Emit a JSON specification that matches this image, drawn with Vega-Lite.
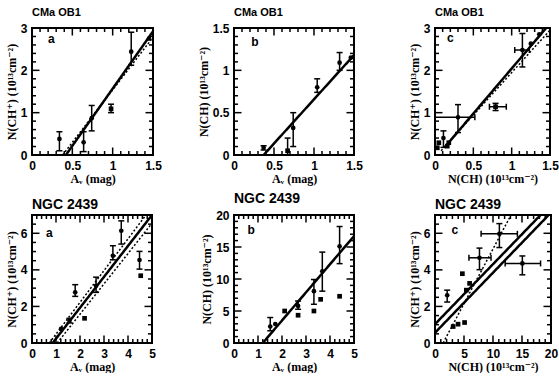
{
"$schema":"https://vega.github.io/schema/vega-lite/v6.json",
"background":"white",
"padding":{"left":4,"top":6,"right":0,"bottom":0},
"columns":3,
"bounds":"flush",
"spacing":{"row":60,"column":81},
"config":{
 "view":{"stroke":"black","strokeWidth":2},
 "axis":{"domain":false,"grid":false,"ticks":false,"labelPadding":5,"labelFlush":false,"labelOverlap":false,"format":"~g","labelFont":"Liberation Sans","labelFontWeight":"bold","labelFontSize":12,"labelColor":"black","titleFont":"Liberation Serif, DejaVu Serif","titleFontWeight":"bold","titleFontSize":12,"titleColor":"black","titlePadding":2},
 "title":{"anchor":"start","frame":"group","font":"Liberation Sans","fontWeight":"bold","color":"black"},
 "tick":{"color":"black","thickness":1.5,"opacity":1}
},
"datasets":{
 "pts":[
  {"p":"a","x":0.34,"y":0.38,"ylo":0.1,"yhi":0.55,"s":"c"},
  {"p":"a","x":0.64,"y":0.3,"ylo":0.08,"yhi":0.55,"s":"c"},
  {"p":"a","x":0.74,"y":0.87,"ylo":0.57,"yhi":1.17,"s":"c"},
  {"p":"a","x":0.98,"y":1.09,"ylo":1.0,"yhi":1.2,"s":"s"},
  {"p":"a","x":1.23,"y":2.44,"ylo":2.12,"yhi":2.9,"s":"c"},
  {"p":"a","x":1.45,"y":2.75,"s":"c"},
  {"p":"b","x":0.37,"y":0.085,"ylo":0.06,"yhi":0.11,"s":"c"},
  {"p":"b","x":0.67,"y":0.05,"ylo":0.0,"yhi":0.2,"s":"s"},
  {"p":"b","x":0.74,"y":0.32,"ylo":0.1,"yhi":0.5,"s":"c"},
  {"p":"b","x":1.04,"y":0.8,"ylo":0.74,"yhi":0.9,"s":"c"},
  {"p":"b","x":1.32,"y":1.09,"ylo":1.0,"yhi":1.21,"s":"c"},
  {"p":"b","x":1.46,"y":1.15,"s":"c"},
  {"p":"c","x":0.3,"y":0.89,"ylo":0.53,"yhi":1.19,"xlo":0,"xhi":0.52,"s":"c"},
  {"p":"c","x":0.79,"y":1.14,"ylo":1.05,"yhi":1.22,"xlo":0.71,"xhi":0.93,"s":"s"},
  {"p":"c","x":1.14,"y":2.48,"ylo":2.08,"yhi":2.87,"xlo":1.04,"xhi":1.23,"s":"c"},
  {"p":"c","x":1.25,"y":2.63,"s":"c"},
  {"p":"c","x":1.36,"y":2.85,"s":"c"},
  {"p":"c","x":0.05,"y":0.29,"s":"s"},
  {"p":"c","x":0.11,"y":0.4,"ylo":0.18,"yhi":0.57,"s":"c"},
  {"p":"c","x":0.18,"y":0.29,"s":"s"},
  {"p":"c","x":0.03,"y":0.17,"s":"s"},
  {"p":"c","x":0.16,"y":0.21,"s":"s"},
  {"p":"d","x":1.8,"y":2.77,"ylo":2.55,"yhi":3.19,"s":"c"},
  {"p":"d","x":2.19,"y":1.35,"s":"s"},
  {"p":"d","x":1.56,"y":1.22,"ylo":1.1,"yhi":1.35,"s":"c"},
  {"p":"d","x":2.67,"y":3.13,"ylo":2.77,"yhi":3.6,"s":"c"},
  {"p":"d","x":3.37,"y":4.77,"ylo":4.55,"yhi":5.32,"s":"c"},
  {"p":"d","x":3.72,"y":6.14,"ylo":5.41,"yhi":6.68,"s":"c"},
  {"p":"d","x":4.48,"y":4.54,"ylo":4.04,"yhi":5.01,"s":"c"},
  {"p":"d","x":4.53,"y":3.68,"s":"s"},
  {"p":"d","x":1.21,"y":0.77,"s":"c"},
  {"p":"e","x":1.51,"y":2.58,"ylo":1.91,"yhi":3.98,"s":"c"},
  {"p":"e","x":1.72,"y":2.95,"s":"c"},
  {"p":"e","x":2.11,"y":5.0,"s":"s"},
  {"p":"e","x":2.67,"y":5.79,"ylo":5.27,"yhi":6.56,"s":"c"},
  {"p":"e","x":2.67,"y":4.34,"s":"s"},
  {"p":"e","x":3.33,"y":8.1,"ylo":6.05,"yhi":9.92,"s":"c"},
  {"p":"e","x":3.61,"y":6.82,"s":"s"},
  {"p":"e","x":3.33,"y":5.0,"s":"s"},
  {"p":"e","x":3.68,"y":11.2,"ylo":8.1,"yhi":14.2,"s":"c"},
  {"p":"e","x":4.4,"y":15.1,"ylo":12.4,"yhi":18.2,"s":"c"},
  {"p":"e","x":4.4,"y":7.3,"s":"s"},
  {"p":"f","x":11.1,"y":5.97,"ylo":5.22,"yhi":6.53,"xlo":7.95,"xhi":14.2,"s":"c"},
  {"p":"f","x":7.67,"y":4.66,"ylo":4.01,"yhi":5.19,"xlo":5.85,"xhi":9.66,"s":"c"},
  {"p":"f","x":15.06,"y":4.35,"ylo":3.73,"yhi":4.76,"xlo":12.1,"xhi":18.2,"s":"c"},
  {"p":"f","x":4.72,"y":3.79,"s":"s"},
  {"p":"f","x":2.1,"y":2.61,"ylo":2.24,"yhi":2.89,"s":"c"},
  {"p":"f","x":5.4,"y":2.89,"s":"s"},
  {"p":"f","x":5.97,"y":3.26,"s":"s"},
  {"p":"f","x":3.13,"y":0.9,"s":"s"},
  {"p":"f","x":3.98,"y":1.03,"s":"s"},
  {"p":"f","x":5.1,"y":1.12,"s":"s"}
 ],
 "fits":[
  {"p":"a","id":"a1","st":"solid","x":0.42,"y":0},{"p":"a","id":"a1","st":"solid","x":1.5,"y":2.92},
  {"p":"a","id":"a2","st":"dot","x":0.38,"y":0},{"p":"a","id":"a2","st":"dot","x":1.5,"y":2.78},
  {"p":"b","id":"b1","st":"solid","x":0.37,"y":0},{"p":"b","id":"b1","st":"solid","x":1.5,"y":1.18},
  {"p":"c","id":"c1","st":"solid","x":0.12,"y":0.17},{"p":"c","id":"c1","st":"solid","x":1.45,"y":3.0},
  {"p":"c","id":"c2","st":"dot","x":0.08,"y":0.1},{"p":"c","id":"c2","st":"dot","x":1.5,"y":2.95},
  {"p":"d","id":"d1","st":"solid","x":0.86,"y":0},{"p":"d","id":"d1","st":"solid","x":5,"y":7},
  {"p":"d","id":"d2","st":"dot","x":0.72,"y":0},{"p":"d","id":"d2","st":"dot","x":4.75,"y":7},
  {"p":"d","id":"d3","st":"dot","x":1.05,"y":0},{"p":"d","id":"d3","st":"dot","x":5,"y":6.55},
  {"p":"e","id":"e1","st":"solid","x":1.2,"y":0},{"p":"e","id":"e1","st":"solid","x":5,"y":16.7},
  {"p":"f","id":"f1","st":"solid","x":0,"y":1.03},{"p":"f","id":"f1","st":"solid","x":18.2,"y":7},
  {"p":"f","id":"f2","st":"solid","x":0,"y":0.56},{"p":"f","id":"f2","st":"solid","x":19.6,"y":7},
  {"p":"f","id":"f3","st":"dot","x":1.4,"y":0},{"p":"f","id":"f3","st":"dot","x":13.1,"y":7}
 ],
 "labs":[
  {"p":"a","x":0.24,"y":2.74,"t":"a"},
  {"p":"b","x":0.26,"y":1.34,"t":"b"},
  {"p":"c","x":0.2,"y":2.76,"t":"c"},
  {"p":"d","x":0.72,"y":6.0,"t":"a"},
  {"p":"e","x":0.72,"y":17.7,"t":"b"},
  {"p":"f","x":3.4,"y":6.2,"t":"c"}
 ],
 "tk":[
  {"k":"r15","v":0.1,"m":0},{"k":"r15","v":0.2,"m":0},{"k":"r15","v":0.3,"m":0},{"k":"r15","v":0.4,"m":0},{"k":"r15","v":0.5,"m":1},{"k":"r15","v":0.6,"m":0},{"k":"r15","v":0.7,"m":0},{"k":"r15","v":0.8,"m":0},{"k":"r15","v":0.9,"m":0},{"k":"r15","v":1.0,"m":1},{"k":"r15","v":1.1,"m":0},{"k":"r15","v":1.2,"m":0},{"k":"r15","v":1.3,"m":0},{"k":"r15","v":1.4,"m":0},
  {"k":"r3","v":0.2,"m":0},{"k":"r3","v":0.4,"m":0},{"k":"r3","v":0.6,"m":0},{"k":"r3","v":0.8,"m":0},{"k":"r3","v":1,"m":1},{"k":"r3","v":1.2,"m":0},{"k":"r3","v":1.4,"m":0},{"k":"r3","v":1.6,"m":0},{"k":"r3","v":1.8,"m":0},{"k":"r3","v":2,"m":1},{"k":"r3","v":2.2,"m":0},{"k":"r3","v":2.4,"m":0},{"k":"r3","v":2.6,"m":0},{"k":"r3","v":2.8,"m":0},
  {"k":"r5","v":0.2,"m":0},{"k":"r5","v":0.4,"m":0},{"k":"r5","v":0.6,"m":0},{"k":"r5","v":0.8,"m":0},{"k":"r5","v":1,"m":1},{"k":"r5","v":1.2,"m":0},{"k":"r5","v":1.4,"m":0},{"k":"r5","v":1.6,"m":0},{"k":"r5","v":1.8,"m":0},{"k":"r5","v":2,"m":1},{"k":"r5","v":2.2,"m":0},{"k":"r5","v":2.4,"m":0},{"k":"r5","v":2.6,"m":0},{"k":"r5","v":2.8,"m":0},{"k":"r5","v":3,"m":1},{"k":"r5","v":3.2,"m":0},{"k":"r5","v":3.4,"m":0},{"k":"r5","v":3.6,"m":0},{"k":"r5","v":3.8,"m":0},{"k":"r5","v":4,"m":1},{"k":"r5","v":4.2,"m":0},{"k":"r5","v":4.4,"m":0},{"k":"r5","v":4.6,"m":0},{"k":"r5","v":4.8,"m":0},
  {"k":"r7","v":0.5,"m":0},{"k":"r7","v":1,"m":0},{"k":"r7","v":1.5,"m":0},{"k":"r7","v":2,"m":1},{"k":"r7","v":2.5,"m":0},{"k":"r7","v":3,"m":0},{"k":"r7","v":3.5,"m":0},{"k":"r7","v":4,"m":1},{"k":"r7","v":4.5,"m":0},{"k":"r7","v":5,"m":0},{"k":"r7","v":5.5,"m":0},{"k":"r7","v":6,"m":1},{"k":"r7","v":6.5,"m":0},
  {"k":"r20","v":1,"m":0},{"k":"r20","v":2,"m":0},{"k":"r20","v":3,"m":0},{"k":"r20","v":4,"m":0},{"k":"r20","v":5,"m":1},{"k":"r20","v":6,"m":0},{"k":"r20","v":7,"m":0},{"k":"r20","v":8,"m":0},{"k":"r20","v":9,"m":0},{"k":"r20","v":10,"m":1},{"k":"r20","v":11,"m":0},{"k":"r20","v":12,"m":0},{"k":"r20","v":13,"m":0},{"k":"r20","v":14,"m":0},{"k":"r20","v":15,"m":1},{"k":"r20","v":16,"m":0},{"k":"r20","v":17,"m":0},{"k":"r20","v":18,"m":0},{"k":"r20","v":19,"m":0}
 ]
},
"concat":[
{"width":121,"height":127,"title":{"text":"CMa OB1","fontSize":11,"offset":4,"frame":"group","anchor":"start"},
 "resolve":{"axis":{"x":"independent","y":"independent"}},
 "layer":[
  {"data":{"name":"pts"},"transform":[{"filter":"datum.p=='a'"}],"mark":{"type":"point","filled":true,"opacity":1,"color":"black","size":22,"clip":true},
   "encoding":{"x":{"field":"x","type":"quantitative","scale":{"domain":[0,1.5],"nice":false,"zero":false},"axis":{"values":[0,0.5,1,1.5],"title":"Aᵥ (mag)"}},
    "y":{"field":"y","type":"quantitative","scale":{"domain":[0,3],"nice":false,"zero":false},"axis":{"values":[0,1,2,3],"title":"N(CH⁺) (10¹³cm⁻²)"}},
    "shape":{"field":"s","type":"nominal","scale":{"domain":["c","s"],"range":["circle","square"]},"legend":null}}},
  {"data":{"name":"tk"},"transform":[{"filter":"datum.k=='r15'"}],"mark":{"type":"tick","orient":"vertical","clip":true},
   "encoding":{"x":{"field":"v","type":"quantitative","axis":null},"y":{"datum":0,"type":"quantitative","axis":null},"size":{"field":"m","type":"quantitative","scale":{"domain":[0,1],"range":[8,15]},"legend":null}}},
  {"data":{"name":"tk"},"transform":[{"filter":"datum.k=='r15'"}],"mark":{"type":"tick","orient":"vertical","clip":true},
   "encoding":{"x":{"field":"v","type":"quantitative","axis":null},"y":{"datum":3,"type":"quantitative","axis":null},"size":{"field":"m","type":"quantitative","scale":{"domain":[0,1],"range":[8,15]},"legend":null}}},
  {"data":{"name":"tk"},"transform":[{"filter":"datum.k=='r3'"}],"mark":{"type":"tick","orient":"horizontal","clip":true},
   "encoding":{"y":{"field":"v","type":"quantitative","axis":null},"x":{"datum":0,"type":"quantitative","axis":null},"size":{"field":"m","type":"quantitative","scale":{"domain":[0,1],"range":[8,15]},"legend":null}}},
  {"data":{"name":"tk"},"transform":[{"filter":"datum.k=='r3'"}],"mark":{"type":"tick","orient":"horizontal","clip":true},
   "encoding":{"y":{"field":"v","type":"quantitative","axis":null},"x":{"datum":1.5,"type":"quantitative","axis":null},"size":{"field":"m","type":"quantitative","scale":{"domain":[0,1],"range":[8,15]},"legend":null}}},
  {"data":{"name":"pts"},"transform":[{"filter":"datum.p=='a' && datum.ylo != null"}],"mark":{"type":"errorbar","color":"black","ticks":{"size":6,"thickness":1.5},"rule":{"strokeWidth":1.5},"clip":true},
   "encoding":{"x":{"field":"x","type":"quantitative","axis":null},"y":{"field":"ylo","type":"quantitative","axis":null},"y2":{"field":"yhi"}}},
  {"data":{"name":"fits"},"transform":[{"filter":"datum.p=='a'"}],"mark":{"type":"line","color":"black","clip":true},
   "encoding":{"x":{"field":"x","type":"quantitative","axis":null},"y":{"field":"y","type":"quantitative","axis":null},"detail":{"field":"id"},
    "strokeDash":{"field":"st","type":"nominal","scale":{"domain":["solid","dot"],"range":[[1,0],[2,2]]},"legend":null},
    "strokeWidth":{"field":"st","type":"nominal","scale":{"domain":["solid","dot"],"range":[2.5,1.5]},"legend":null}}},
  {"data":{"name":"labs"},"transform":[{"filter":"datum.p=='a'"}],"mark":{"type":"text","font":"Liberation Sans","fontWeight":"bold","fontSize":12,"color":"black"},
   "encoding":{"x":{"field":"x","type":"quantitative","axis":null},"y":{"field":"y","type":"quantitative","axis":null},"text":{"field":"t"}}}
 ]},
{"width":120,"height":127,"title":{"text":"CMa OB1","fontSize":11,"offset":4,"frame":"group","anchor":"start"},
 "resolve":{"axis":{"x":"independent","y":"independent"}},
 "layer":[
  {"data":{"name":"pts"},"transform":[{"filter":"datum.p=='b'"}],"mark":{"type":"point","filled":true,"opacity":1,"color":"black","size":22,"clip":true},
   "encoding":{"x":{"field":"x","type":"quantitative","scale":{"domain":[0,1.5],"nice":false,"zero":false},"axis":{"values":[0,0.5,1,1.5],"title":"Aᵥ (mag)"}},
    "y":{"field":"y","type":"quantitative","scale":{"domain":[0,1.5],"nice":false,"zero":false},"axis":{"values":[0,0.5,1,1.5],"title":"N(CH) (10¹³cm⁻²)"}},
    "shape":{"field":"s","type":"nominal","scale":{"domain":["c","s"],"range":["circle","square"]},"legend":null}}},
  {"data":{"name":"tk"},"transform":[{"filter":"datum.k=='r15'"}],"mark":{"type":"tick","orient":"vertical","clip":true},
   "encoding":{"x":{"field":"v","type":"quantitative","axis":null},"y":{"datum":0,"type":"quantitative","axis":null},"size":{"field":"m","type":"quantitative","scale":{"domain":[0,1],"range":[8,15]},"legend":null}}},
  {"data":{"name":"tk"},"transform":[{"filter":"datum.k=='r15'"}],"mark":{"type":"tick","orient":"vertical","clip":true},
   "encoding":{"x":{"field":"v","type":"quantitative","axis":null},"y":{"datum":1.5,"type":"quantitative","axis":null},"size":{"field":"m","type":"quantitative","scale":{"domain":[0,1],"range":[8,15]},"legend":null}}},
  {"data":{"name":"tk"},"transform":[{"filter":"datum.k=='r15'"}],"mark":{"type":"tick","orient":"horizontal","clip":true},
   "encoding":{"y":{"field":"v","type":"quantitative","axis":null},"x":{"datum":0,"type":"quantitative","axis":null},"size":{"field":"m","type":"quantitative","scale":{"domain":[0,1],"range":[8,15]},"legend":null}}},
  {"data":{"name":"tk"},"transform":[{"filter":"datum.k=='r15'"}],"mark":{"type":"tick","orient":"horizontal","clip":true},
   "encoding":{"y":{"field":"v","type":"quantitative","axis":null},"x":{"datum":1.5,"type":"quantitative","axis":null},"size":{"field":"m","type":"quantitative","scale":{"domain":[0,1],"range":[8,15]},"legend":null}}},
  {"data":{"name":"pts"},"transform":[{"filter":"datum.p=='b' && datum.ylo != null"}],"mark":{"type":"errorbar","color":"black","ticks":{"size":6,"thickness":1.5},"rule":{"strokeWidth":1.5},"clip":true},
   "encoding":{"x":{"field":"x","type":"quantitative","axis":null},"y":{"field":"ylo","type":"quantitative","axis":null},"y2":{"field":"yhi"}}},
  {"data":{"name":"fits"},"transform":[{"filter":"datum.p=='b'"}],"mark":{"type":"line","color":"black","clip":true},
   "encoding":{"x":{"field":"x","type":"quantitative","axis":null},"y":{"field":"y","type":"quantitative","axis":null},"detail":{"field":"id"},
    "strokeDash":{"field":"st","type":"nominal","scale":{"domain":["solid","dot"],"range":[[1,0],[2,2]]},"legend":null},
    "strokeWidth":{"field":"st","type":"nominal","scale":{"domain":["solid","dot"],"range":[2.5,1.5]},"legend":null}}},
  {"data":{"name":"labs"},"transform":[{"filter":"datum.p=='b'"}],"mark":{"type":"text","font":"Liberation Sans","fontWeight":"bold","fontSize":12,"color":"black"},
   "encoding":{"x":{"field":"x","type":"quantitative","axis":null},"y":{"field":"y","type":"quantitative","axis":null},"text":{"field":"t"}}}
 ]},
{"width":115,"height":127,"title":{"text":"CMa OB1","fontSize":11,"offset":4,"frame":"group","anchor":"start"},
 "resolve":{"axis":{"x":"independent","y":"independent"}},
 "layer":[
  {"data":{"name":"pts"},"transform":[{"filter":"datum.p=='c'"}],"mark":{"type":"point","filled":true,"opacity":1,"color":"black","size":22,"clip":true},
   "encoding":{"x":{"field":"x","type":"quantitative","scale":{"domain":[0,1.5],"nice":false,"zero":false},"axis":{"values":[0,0.5,1,1.5],"title":"N(CH) (10¹³cm⁻²)"}},
    "y":{"field":"y","type":"quantitative","scale":{"domain":[0,3],"nice":false,"zero":false},"axis":{"values":[0,1,2,3],"title":"N(CH⁺) (10¹³cm⁻²)"}},
    "shape":{"field":"s","type":"nominal","scale":{"domain":["c","s"],"range":["circle","square"]},"legend":null}}},
  {"data":{"name":"tk"},"transform":[{"filter":"datum.k=='r15'"}],"mark":{"type":"tick","orient":"vertical","clip":true},
   "encoding":{"x":{"field":"v","type":"quantitative","axis":null},"y":{"datum":0,"type":"quantitative","axis":null},"size":{"field":"m","type":"quantitative","scale":{"domain":[0,1],"range":[8,15]},"legend":null}}},
  {"data":{"name":"tk"},"transform":[{"filter":"datum.k=='r15'"}],"mark":{"type":"tick","orient":"vertical","clip":true},
   "encoding":{"x":{"field":"v","type":"quantitative","axis":null},"y":{"datum":3,"type":"quantitative","axis":null},"size":{"field":"m","type":"quantitative","scale":{"domain":[0,1],"range":[8,15]},"legend":null}}},
  {"data":{"name":"tk"},"transform":[{"filter":"datum.k=='r3'"}],"mark":{"type":"tick","orient":"horizontal","clip":true},
   "encoding":{"y":{"field":"v","type":"quantitative","axis":null},"x":{"datum":0,"type":"quantitative","axis":null},"size":{"field":"m","type":"quantitative","scale":{"domain":[0,1],"range":[8,15]},"legend":null}}},
  {"data":{"name":"tk"},"transform":[{"filter":"datum.k=='r3'"}],"mark":{"type":"tick","orient":"horizontal","clip":true},
   "encoding":{"y":{"field":"v","type":"quantitative","axis":null},"x":{"datum":1.5,"type":"quantitative","axis":null},"size":{"field":"m","type":"quantitative","scale":{"domain":[0,1],"range":[8,15]},"legend":null}}},
  {"data":{"name":"pts"},"transform":[{"filter":"datum.p=='c' && datum.ylo != null"}],"mark":{"type":"errorbar","color":"black","ticks":{"size":6,"thickness":1.5},"rule":{"strokeWidth":1.5},"clip":true},
   "encoding":{"x":{"field":"x","type":"quantitative","axis":null},"y":{"field":"ylo","type":"quantitative","axis":null},"y2":{"field":"yhi"}}},
  {"data":{"name":"pts"},"transform":[{"filter":"datum.p=='c' && datum.xlo != null"}],"mark":{"type":"errorbar","color":"black","ticks":{"size":6,"thickness":1.5},"rule":{"strokeWidth":1.5},"clip":true},
   "encoding":{"y":{"field":"y","type":"quantitative","axis":null},"x":{"field":"xlo","type":"quantitative","axis":null},"x2":{"field":"xhi"}}},
  {"data":{"name":"fits"},"transform":[{"filter":"datum.p=='c'"}],"mark":{"type":"line","color":"black","clip":true},
   "encoding":{"x":{"field":"x","type":"quantitative","axis":null},"y":{"field":"y","type":"quantitative","axis":null},"detail":{"field":"id"},
    "strokeDash":{"field":"st","type":"nominal","scale":{"domain":["solid","dot"],"range":[[1,0],[2,2]]},"legend":null},
    "strokeWidth":{"field":"st","type":"nominal","scale":{"domain":["solid","dot"],"range":[2.5,1.5]},"legend":null}}},
  {"data":{"name":"labs"},"transform":[{"filter":"datum.p=='c'"}],"mark":{"type":"text","font":"Liberation Sans","fontWeight":"bold","fontSize":12,"color":"black"},
   "encoding":{"x":{"field":"x","type":"quantitative","axis":null},"y":{"field":"y","type":"quantitative","axis":null},"text":{"field":"t"}}}
 ]},
{"width":120,"height":128,"title":{"text":"NGC 2439","fontSize":14,"offset":3,"frame":"group","anchor":"start"},
 "resolve":{"axis":{"x":"independent","y":"independent"}},
 "layer":[
  {"data":{"name":"pts"},"transform":[{"filter":"datum.p=='d'"}],"mark":{"type":"point","filled":true,"opacity":1,"color":"black","size":22,"clip":true},
   "encoding":{"x":{"field":"x","type":"quantitative","scale":{"domain":[0,5],"nice":false,"zero":false},"axis":{"values":[0,1,2,3,4,5],"title":"Aᵥ (mag)"}},
    "y":{"field":"y","type":"quantitative","scale":{"domain":[0,7],"nice":false,"zero":false},"axis":{"values":[0,2,4,6],"title":"N(CH⁺) (10¹³cm⁻²)"}},
    "shape":{"field":"s","type":"nominal","scale":{"domain":["c","s"],"range":["circle","square"]},"legend":null}}},
  {"data":{"name":"tk"},"transform":[{"filter":"datum.k=='r5'"}],"mark":{"type":"tick","orient":"vertical","clip":true},
   "encoding":{"x":{"field":"v","type":"quantitative","axis":null},"y":{"datum":0,"type":"quantitative","axis":null},"size":{"field":"m","type":"quantitative","scale":{"domain":[0,1],"range":[8,15]},"legend":null}}},
  {"data":{"name":"tk"},"transform":[{"filter":"datum.k=='r5'"}],"mark":{"type":"tick","orient":"vertical","clip":true},
   "encoding":{"x":{"field":"v","type":"quantitative","axis":null},"y":{"datum":7,"type":"quantitative","axis":null},"size":{"field":"m","type":"quantitative","scale":{"domain":[0,1],"range":[8,15]},"legend":null}}},
  {"data":{"name":"tk"},"transform":[{"filter":"datum.k=='r7'"}],"mark":{"type":"tick","orient":"horizontal","clip":true},
   "encoding":{"y":{"field":"v","type":"quantitative","axis":null},"x":{"datum":0,"type":"quantitative","axis":null},"size":{"field":"m","type":"quantitative","scale":{"domain":[0,1],"range":[8,15]},"legend":null}}},
  {"data":{"name":"tk"},"transform":[{"filter":"datum.k=='r7'"}],"mark":{"type":"tick","orient":"horizontal","clip":true},
   "encoding":{"y":{"field":"v","type":"quantitative","axis":null},"x":{"datum":5,"type":"quantitative","axis":null},"size":{"field":"m","type":"quantitative","scale":{"domain":[0,1],"range":[8,15]},"legend":null}}},
  {"data":{"name":"pts"},"transform":[{"filter":"datum.p=='d' && datum.ylo != null"}],"mark":{"type":"errorbar","color":"black","ticks":{"size":6,"thickness":1.5},"rule":{"strokeWidth":1.5},"clip":true},
   "encoding":{"x":{"field":"x","type":"quantitative","axis":null},"y":{"field":"ylo","type":"quantitative","axis":null},"y2":{"field":"yhi"}}},
  {"data":{"name":"fits"},"transform":[{"filter":"datum.p=='d'"}],"mark":{"type":"line","color":"black","clip":true},
   "encoding":{"x":{"field":"x","type":"quantitative","axis":null},"y":{"field":"y","type":"quantitative","axis":null},"detail":{"field":"id"},
    "strokeDash":{"field":"st","type":"nominal","scale":{"domain":["solid","dot"],"range":[[1,0],[2,2]]},"legend":null},
    "strokeWidth":{"field":"st","type":"nominal","scale":{"domain":["solid","dot"],"range":[2.5,1.5]},"legend":null}}},
  {"data":{"name":"labs"},"transform":[{"filter":"datum.p=='d'"}],"mark":{"type":"text","font":"Liberation Sans","fontWeight":"bold","fontSize":12,"color":"black"},
   "encoding":{"x":{"field":"x","type":"quantitative","axis":null},"y":{"field":"y","type":"quantitative","axis":null},"text":{"field":"t"}}}
 ]},
{"width":120,"height":128,"title":{"text":"NGC 2439","fontSize":14,"offset":3,"frame":"group","anchor":"start"},
 "resolve":{"axis":{"x":"independent","y":"independent"}},
 "layer":[
  {"data":{"name":"pts"},"transform":[{"filter":"datum.p=='e'"}],"mark":{"type":"point","filled":true,"opacity":1,"color":"black","size":22,"clip":true},
   "encoding":{"x":{"field":"x","type":"quantitative","scale":{"domain":[0,5],"nice":false,"zero":false},"axis":{"values":[0,1,2,3,4,5],"title":"Aᵥ (mag)"}},
    "y":{"field":"y","type":"quantitative","scale":{"domain":[0,20],"nice":false,"zero":false},"axis":{"values":[0,5,10,15,20],"title":"N(CH) (10¹³cm⁻²)"}},
    "shape":{"field":"s","type":"nominal","scale":{"domain":["c","s"],"range":["circle","square"]},"legend":null}}},
  {"data":{"name":"tk"},"transform":[{"filter":"datum.k=='r5'"}],"mark":{"type":"tick","orient":"vertical","clip":true},
   "encoding":{"x":{"field":"v","type":"quantitative","axis":null},"y":{"datum":0,"type":"quantitative","axis":null},"size":{"field":"m","type":"quantitative","scale":{"domain":[0,1],"range":[8,15]},"legend":null}}},
  {"data":{"name":"tk"},"transform":[{"filter":"datum.k=='r5'"}],"mark":{"type":"tick","orient":"vertical","clip":true},
   "encoding":{"x":{"field":"v","type":"quantitative","axis":null},"y":{"datum":20,"type":"quantitative","axis":null},"size":{"field":"m","type":"quantitative","scale":{"domain":[0,1],"range":[8,15]},"legend":null}}},
  {"data":{"name":"tk"},"transform":[{"filter":"datum.k=='r20'"}],"mark":{"type":"tick","orient":"horizontal","clip":true},
   "encoding":{"y":{"field":"v","type":"quantitative","axis":null},"x":{"datum":0,"type":"quantitative","axis":null},"size":{"field":"m","type":"quantitative","scale":{"domain":[0,1],"range":[8,15]},"legend":null}}},
  {"data":{"name":"tk"},"transform":[{"filter":"datum.k=='r20'"}],"mark":{"type":"tick","orient":"horizontal","clip":true},
   "encoding":{"y":{"field":"v","type":"quantitative","axis":null},"x":{"datum":5,"type":"quantitative","axis":null},"size":{"field":"m","type":"quantitative","scale":{"domain":[0,1],"range":[8,15]},"legend":null}}},
  {"data":{"name":"pts"},"transform":[{"filter":"datum.p=='e' && datum.ylo != null"}],"mark":{"type":"errorbar","color":"black","ticks":{"size":6,"thickness":1.5},"rule":{"strokeWidth":1.5},"clip":true},
   "encoding":{"x":{"field":"x","type":"quantitative","axis":null},"y":{"field":"ylo","type":"quantitative","axis":null},"y2":{"field":"yhi"}}},
  {"data":{"name":"fits"},"transform":[{"filter":"datum.p=='e'"}],"mark":{"type":"line","color":"black","clip":true},
   "encoding":{"x":{"field":"x","type":"quantitative","axis":null},"y":{"field":"y","type":"quantitative","axis":null},"detail":{"field":"id"},
    "strokeDash":{"field":"st","type":"nominal","scale":{"domain":["solid","dot"],"range":[[1,0],[2,2]]},"legend":null},
    "strokeWidth":{"field":"st","type":"nominal","scale":{"domain":["solid","dot"],"range":[2.5,1.5]},"legend":null}}},
  {"data":{"name":"labs"},"transform":[{"filter":"datum.p=='e'"}],"mark":{"type":"text","font":"Liberation Sans","fontWeight":"bold","fontSize":12,"color":"black"},
   "encoding":{"x":{"field":"x","type":"quantitative","axis":null},"y":{"field":"y","type":"quantitative","axis":null},"text":{"field":"t"}}}
 ]},
{"width":116,"height":128,"title":{"text":"NGC 2439","fontSize":14,"offset":3,"frame":"group","anchor":"start"},
 "resolve":{"axis":{"x":"independent","y":"independent"}},
 "layer":[
  {"data":{"name":"pts"},"transform":[{"filter":"datum.p=='f'"}],"mark":{"type":"point","filled":true,"opacity":1,"color":"black","size":22,"clip":true},
   "encoding":{"x":{"field":"x","type":"quantitative","scale":{"domain":[0,20],"nice":false,"zero":false},"axis":{"values":[0,5,10,15,20],"title":"N(CH) (10¹³cm⁻²)"}},
    "y":{"field":"y","type":"quantitative","scale":{"domain":[0,7],"nice":false,"zero":false},"axis":{"values":[0,2,4,6],"title":"N(CH⁺) (10¹³cm⁻²)"}},
    "shape":{"field":"s","type":"nominal","scale":{"domain":["c","s"],"range":["circle","square"]},"legend":null}}},
  {"data":{"name":"tk"},"transform":[{"filter":"datum.k=='r20'"}],"mark":{"type":"tick","orient":"vertical","clip":true},
   "encoding":{"x":{"field":"v","type":"quantitative","axis":null},"y":{"datum":0,"type":"quantitative","axis":null},"size":{"field":"m","type":"quantitative","scale":{"domain":[0,1],"range":[8,15]},"legend":null}}},
  {"data":{"name":"tk"},"transform":[{"filter":"datum.k=='r20'"}],"mark":{"type":"tick","orient":"vertical","clip":true},
   "encoding":{"x":{"field":"v","type":"quantitative","axis":null},"y":{"datum":7,"type":"quantitative","axis":null},"size":{"field":"m","type":"quantitative","scale":{"domain":[0,1],"range":[8,15]},"legend":null}}},
  {"data":{"name":"tk"},"transform":[{"filter":"datum.k=='r7'"}],"mark":{"type":"tick","orient":"horizontal","clip":true},
   "encoding":{"y":{"field":"v","type":"quantitative","axis":null},"x":{"datum":0,"type":"quantitative","axis":null},"size":{"field":"m","type":"quantitative","scale":{"domain":[0,1],"range":[8,15]},"legend":null}}},
  {"data":{"name":"tk"},"transform":[{"filter":"datum.k=='r7'"}],"mark":{"type":"tick","orient":"horizontal","clip":true},
   "encoding":{"y":{"field":"v","type":"quantitative","axis":null},"x":{"datum":20,"type":"quantitative","axis":null},"size":{"field":"m","type":"quantitative","scale":{"domain":[0,1],"range":[8,15]},"legend":null}}},
  {"data":{"name":"pts"},"transform":[{"filter":"datum.p=='f' && datum.ylo != null"}],"mark":{"type":"errorbar","color":"black","ticks":{"size":6,"thickness":1.5},"rule":{"strokeWidth":1.5},"clip":true},
   "encoding":{"x":{"field":"x","type":"quantitative","axis":null},"y":{"field":"ylo","type":"quantitative","axis":null},"y2":{"field":"yhi"}}},
  {"data":{"name":"pts"},"transform":[{"filter":"datum.p=='f' && datum.xlo != null"}],"mark":{"type":"errorbar","color":"black","ticks":{"size":6,"thickness":1.5},"rule":{"strokeWidth":1.5},"clip":true},
   "encoding":{"y":{"field":"y","type":"quantitative","axis":null},"x":{"field":"xlo","type":"quantitative","axis":null},"x2":{"field":"xhi"}}},
  {"data":{"name":"fits"},"transform":[{"filter":"datum.p=='f'"}],"mark":{"type":"line","color":"black","clip":true},
   "encoding":{"x":{"field":"x","type":"quantitative","axis":null},"y":{"field":"y","type":"quantitative","axis":null},"detail":{"field":"id"},
    "strokeDash":{"field":"st","type":"nominal","scale":{"domain":["solid","dot"],"range":[[1,0],[2,2]]},"legend":null},
    "strokeWidth":{"field":"st","type":"nominal","scale":{"domain":["solid","dot"],"range":[2.5,1.5]},"legend":null}}},
  {"data":{"name":"labs"},"transform":[{"filter":"datum.p=='f'"}],"mark":{"type":"text","font":"Liberation Sans","fontWeight":"bold","fontSize":12,"color":"black"},
   "encoding":{"x":{"field":"x","type":"quantitative","axis":null},"y":{"field":"y","type":"quantitative","axis":null},"text":{"field":"t"}}}
 ]}
]
}
